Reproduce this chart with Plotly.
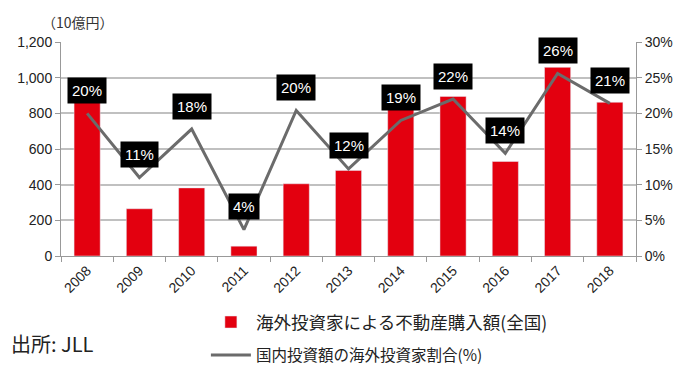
import plotly.graph_objects as go

years = ["2008", "2009", "2010", "2011", "2012", "2013", "2014", "2015", "2016", "2017", "2018"]
purchase = [880, 265, 382, 55, 405, 480, 850, 895, 530, 1058, 862]
share = [0.200, 0.110, 0.178, 0.037, 0.204, 0.122, 0.190, 0.220, 0.144, 0.256, 0.214]
share_labels = ["20%", "11%", "18%", "4%", "20%", "12%", "19%", "22%", "14%", "26%", "21%"]
left_ticks = [0, 200, 400, 600, 800, 1000, 1200]
right_ticks = [0, 0.05, 0.10, 0.15, 0.20, 0.25, 0.30]

bar_name = "海外投資家による不動産購入額(全国)"
line_name = "国内投資額の海外投資家割合(%)"

FONT = "Liberation Sans, Arial, Noto Sans CJK JP, sans-serif"
JFONT = "Noto Sans CJK JP, Liberation Sans, sans-serif"

fig = go.Figure()
fig.add_trace(go.Bar(x=years, y=purchase, name=bar_name, marker_color="#E3000F",
                     width=0.5, yaxis="y", legend="legend"))
fig.add_trace(go.Scatter(x=years, y=share, name=line_name, mode="lines",
                         line=dict(color="#6b6b6b", width=3), yaxis="y2", legend="legend2"))

for i, (v, t) in enumerate(zip(share, share_labels)):
    fig.add_annotation(x=i, xref="x", y=v, yref="y2", text=t, showarrow=False, yshift=23,
                       bgcolor="black", font=dict(color="white", size=15, family=FONT),
                       borderpad=4)

fig.add_annotation(xref="paper", yref="paper", x=-0.037, y=1.0, yanchor="middle", yshift=20,
                   xanchor="left", text="（10億円）", showarrow=False,
                   font=dict(size=14, color="#333", family=JFONT))
fig.add_annotation(xref="paper", yref="paper", x=-0.09, y=-0.41, xanchor="left",
                   yanchor="middle", text="出所: JLL", showarrow=False,
                   font=dict(size=20, color="#222", family=JFONT))

fig.update_layout(
    width=673, height=365,
    margin=dict(l=53, r=45, t=34, b=117, autoexpand=False),
    paper_bgcolor="white", plot_bgcolor="white",
    bargap=0.5,
    showlegend=True,
    legend=dict(x=0.252, y=-0.225, xanchor="left", yanchor="top", orientation="v",
                font=dict(size=17.5, color="#222", family=JFONT),
                itemwidth=40, bgcolor="rgba(0,0,0,0)"),
    legend2=dict(x=0.252, y=-0.385, xanchor="left", yanchor="top", orientation="v",
                 font=dict(size=15.5, color="#222", family=JFONT),
                 itemwidth=40, bgcolor="rgba(0,0,0,0)"),
    xaxis=dict(type="category", categoryorder="array", categoryarray=years,
               tickangle=-45, tickfont=dict(size=14, color="#222", family=FONT),
               showline=True, linecolor="#999", linewidth=1, ticks="outside",
               tickson="boundaries", ticklen=5, tickcolor="#999", showgrid=False,
               automargin=False),
    yaxis=dict(range=[0, 1200], tickvals=left_ticks, tickformat=",",
               tickfont=dict(size=14, color="#222", family=FONT),
               showgrid=True, gridcolor="#c0c0c0", gridwidth=1.5,
               showline=True, linecolor="#999", ticks="outside", ticklen=5, tickcolor="#999",
               zeroline=False, automargin=False),
    yaxis2=dict(range=[0, 0.30], tickvals=right_ticks, tickformat=".0%", overlaying="y",
                side="right", tickfont=dict(size=14, color="#222", family=FONT),
                showgrid=False, showline=True, linecolor="#999", ticks="outside",
                ticklen=5, tickcolor="#999", zeroline=False, automargin=False),
)

fig.write_html("out.html")
